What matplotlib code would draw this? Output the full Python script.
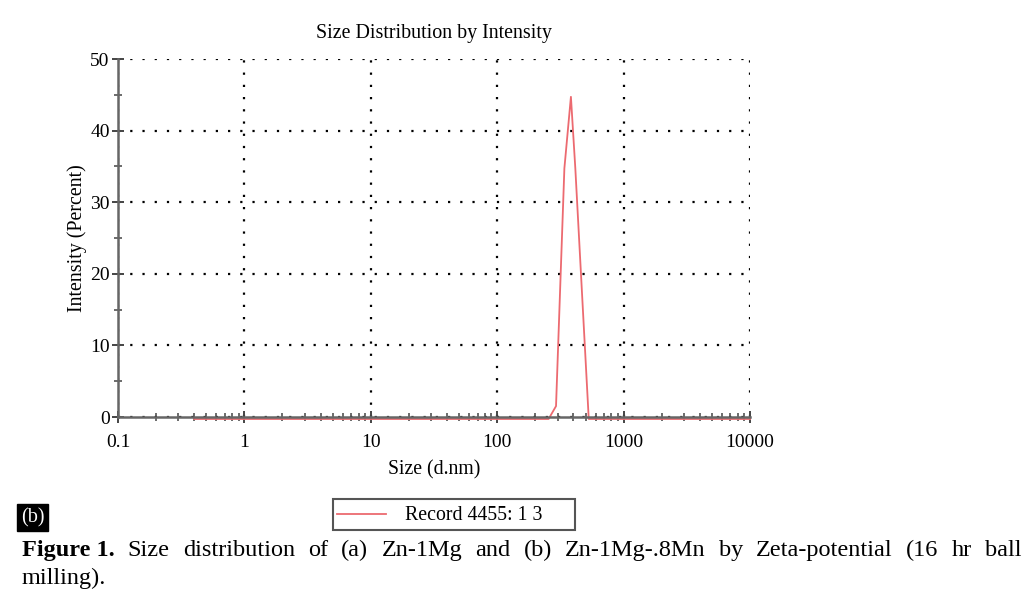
#!/usr/bin/env python3
"""size distribution by intensity, zeta sizer style"""
import matplotlib
matplotlib.use("Agg")
import matplotlib.pyplot as plt
from matplotlib.patches import Rectangle
from matplotlib.transforms import offset_copy
from matplotlib.ticker import MultipleLocator, LogLocator, FixedLocator, NullFormatter

# curve (size in d.nm, intensity in %)
size_nm = [0.4, 1, 10, 100, 255, 292, 340, 383, 415, 530, 1000, 10000]
intensity = [0, 0, 0, 0, 0, 1.8, 35, 45, 35, 0, 0, 0]
x_ticks = [0.1, 1, 10, 100, 1000, 10000]
x_labels = ["0.1", "1", "10", "100", "1000", "10000"]
y_ticks = [0, 10, 20, 30, 40, 50]
record = "Record 4455: 1 3"

plt.rcParams['font.family'] = ['Liberation Serif', 'DejaVu Serif']

fig = plt.figure(figsize=(10.31, 6.0), dpi=100)
ax = fig.add_axes([118 / 1031, 1 - 417 / 600, (750 - 118) / 1031, (417 - 59) / 600])

# drawn a couple of pixels low so the zero run shows under the axis line
shifted = offset_copy(ax.transData, fig=fig, x=0, y=-2, units='dots')
line, = ax.plot(size_nm, intensity, color='#ec6a70', lw=1.3, label=record,
                transform=shifted, clip_on=False, zorder=1)

ax.set_xscale('log')
ax.set_xlim(0.1, 10000)
ax.set_ylim(0, 50)
ax.xaxis.set_major_locator(FixedLocator(x_ticks))
ax.set_xticklabels(x_labels)
ax.xaxis.set_minor_locator(LogLocator(base=10, subs=range(2, 10)))
ax.xaxis.set_minor_formatter(NullFormatter())
ax.yaxis.set_major_locator(FixedLocator(y_ticks))
ax.yaxis.set_minor_locator(MultipleLocator(5))

ax.grid(True, which='major', color='black', linestyle=(0, (1, 4.5)), lw=1.6)
ax.set_axisbelow(True)
for s in ['top', 'right']:
    ax.spines[s].set_visible(False)
for s in ['left', 'bottom']:
    ax.spines[s].set_color('#666666')
    ax.spines[s].set_linewidth(1.8)
    ax.spines[s].set_zorder(2)
ax.tick_params(which='both', direction='inout', color='#444444', labelsize=14)
ax.tick_params(which='major', length=8, width=1.4)
ax.tick_params(which='minor', length=6, width=1.1)
ax.tick_params(axis='x', pad=8)
ax.tick_params(axis='y', pad=2)

ax.set_title('Size Distribution by Intensity', fontsize=14.4, pad=15)
ax.set_xlabel('Size (d.nm)', fontsize=14.2, labelpad=7)
ax.set_ylabel('Intensity (Percent)', fontsize=14.4, labelpad=2)

# legend box below the plot
fig.patches.append(Rectangle((333 / 1031, 1 - 530 / 600), (575 - 333) / 1031, 31 / 600,
                             transform=fig.transFigure, fill=False, ec='#555555', lw=1.5))
fig.legend(handles=[line], loc='center left', bbox_to_anchor=(333 / 1031, 1 - 516 / 600),
           frameon=False, fontsize=14.3, handlelength=2.45, handletextpad=1.0,
           borderpad=0, borderaxespad=0.2)

# panel tag
fig.text(32.5 / 1031, 1 - 517.5 / 600, '(b)', color='white', fontsize=14.5, ha='center',
         va='center', bbox=dict(boxstyle='square,pad=0.18', fc='black', ec='black'))

# caption, first line justified to the right edge
words = ["Figure 1.", "Size", "distribution", "of", "(a)", "Zn-1Mg", "and", "(b)",
         "Zn-1Mg-.8Mn", "by", "Zeta-potential", "(16", "hr", "ball"]
left, right = 22 / 1031, 1021 / 1031
ycap = 1 - 556 / 600
renderer = fig.canvas.get_renderer()
texts = []
for i, w in enumerate(words):
    t = fig.text(0, ycap, w, fontsize=17.5, va='baseline',
                 fontweight='bold' if i == 0 else 'normal')
    texts.append(t)
widths = [t.get_window_extent(renderer).width / fig.bbox.width for t in texts]
gap = (right - left - sum(widths)) / (len(words) - 1)
xpos = left
for t, w in zip(texts, widths):
    t.set_x(xpos)
    xpos += w + gap
fig.text(left, 1 - 584 / 600, "milling).", fontsize=17.5, va='baseline')

fig.savefig('out.png', dpi=100)
